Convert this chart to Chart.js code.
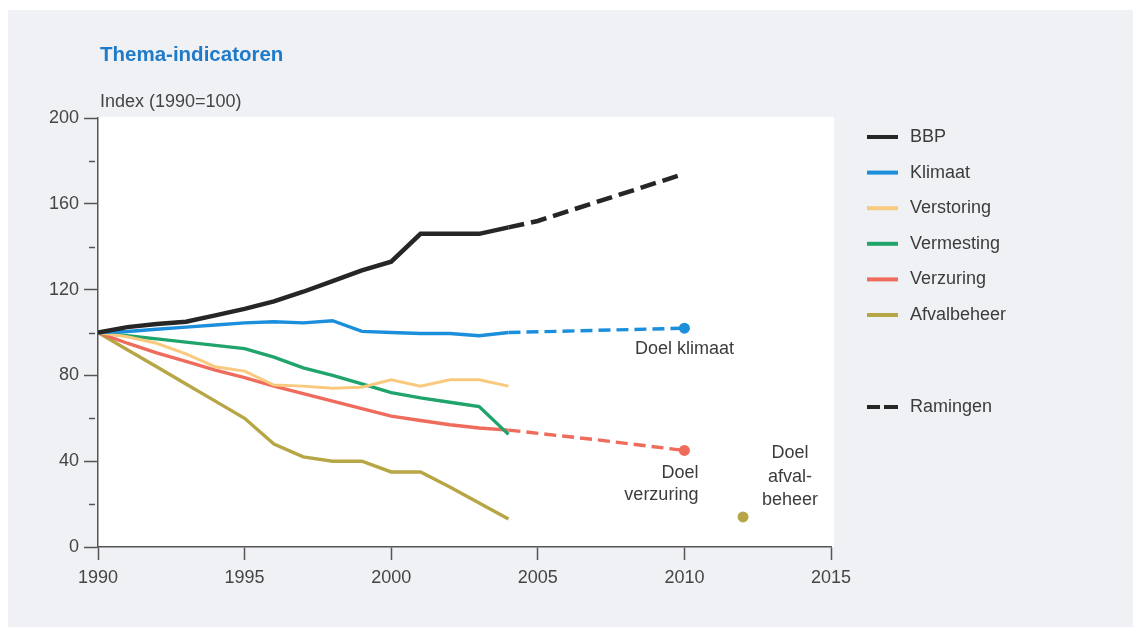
<!DOCTYPE html>
<html>
<head>
<meta charset="utf-8">
<script src="https://cdn.jsdelivr.net/npm/chart.js@4/dist/chart.umd.min.js"></script>
<style>
  body { margin: 0; background: #fff; }
  #panel { position: absolute; left: 8px; top: 10px; width: 1125px; height: 617px; background: #eff1f5; }
  #chart { position: absolute; left: 0; top: 0; }
</style>
</head>
<body>
<div id="panel"></div>
<canvas id="chart" width="1139" height="635"></canvas>
<script>
// jaren met gemeten waarden
const years = [1990, 1991, 1992, 1993, 1994, 1995, 1996, 1997, 1998, 1999, 2000, 2001, 2002, 2003, 2004];

const bbp         = [100, 102.5, 104, 105, 108, 111, 114.5, 119, 124, 129, 133, 146, 146, 146, 149];
const klimaat     = [100, 100.5, 101.5, 102.5, 103.5, 104.5, 105, 104.5, 105.5, 100.5, 100, 99.5, 99.5, 98.5, 100];
const verstoring  = [100, 98, 95, 90, 84, 82, 75.5, 75, 74, 74.5, 78, 75, 78, 78, 75];
const vermesting  = [100, 98.5, 97, 95.5, 94, 92.5, 88.5, 83.5, 80, 76, 72, 69.5, 67.5, 65.5, 52.5];
const verzuring   = [100, 95, 90.5, 86.5, 82.5, 79, 75, 71.5, 68, 64.5, 61, 59, 57, 55.5, 54.5];
const afvalbeheer = [100, 92, 84, 76, 68, 60, 48, 42, 40, 40, 35, 35, 28, 20.5, 13];

// ramingen tot 2010 en doelen
const bbpRamingYears = [2004, 2005, 2010];
const bbpRaming = [149, 152, 174];
const klimaatRamingYears = [2004, 2010];
const klimaatRaming = [100, 102];
const verzuringRamingYears = [2004, 2007, 2010];
const verzuringRaming = [54.5, 50, 45];
const afvalDoelYears = [2012];
const afvalDoel = [14];

const yTicks = [0, 40, 80, 120, 160, 200];
const xTicks = [1990, 1995, 2000, 2005, 2010, 2015];

const colors = {
    bbp: '#262626',
    klimaat: '#1b8fdc',
    verstoring: '#f9c97d',
    vermesting: '#1fa46b',
    verzuring: '#ef6b5b',
    afval: '#b6a646'
};

const legendItems = [
    { label: 'BBP', color: colors.bbp },
    { label: 'Klimaat', color: colors.klimaat },
    { label: 'Verstoring', color: colors.verstoring },
    { label: 'Vermesting', color: colors.vermesting },
    { label: 'Verzuring', color: colors.verzuring },
    { label: 'Afvalbeheer', color: colors.afval }
];

const toPoints = (xs, ys) => xs.map((x, i) => ({ x: x, y: ys[i] }));
const lastDot = (n, r) => ctx => ctx.dataIndex === n - 1 ? r : 0;

function solid(label, values, color, width) {
    return {
        label: label,
        data: toPoints(years, values),
        borderColor: color,
        borderWidth: width,
        pointRadius: 0,
        tension: 0
    };
}

function raming(xs, values, color, width, dash, dot) {
    return {
        label: 'Ramingen',
        data: toPoints(xs, values),
        borderColor: color,
        backgroundColor: color,
        borderWidth: width,
        borderDash: dash,
        pointRadius: dot ? lastDot(xs.length, 5.5) : 0,
        pointBorderWidth: 0,
        tension: 0
    };
}

Chart.defaults.font.family = "'Liberation Sans', Arial, sans-serif";
Chart.defaults.color = '#454545';

// achtergrond, titels, kleine streepjes, tekst bij doelen en legenda
const decor = {
    id: 'decor',
    beforeDraw(chart) {
        const { ctx, chartArea } = chart;
        ctx.save();
        ctx.fillStyle = '#ffffff';
        ctx.fillRect(chartArea.left, chartArea.top - 1, 834 - chartArea.left, chartArea.bottom - chartArea.top + 1);
        ctx.restore();
    },
    afterDraw(chart) {
        const { ctx } = chart;
        const xs = chart.scales.x, ys = chart.scales.y;
        ctx.save();

        ctx.fillStyle = '#1f7bc8';
        ctx.font = "bold 20.5px 'Liberation Sans', Arial, sans-serif";
        ctx.textBaseline = 'middle';
        ctx.fillText('Thema-indicatoren', 100, 55);

        ctx.fillStyle = '#454545';
        ctx.font = "18px 'Liberation Sans', Arial, sans-serif";
        ctx.fillText('Index (1990=100)', 100, 102);

        // korte streepjes tussen de gelabelde waarden
        ctx.strokeStyle = '#555';
        ctx.lineWidth = 1.5;
        for (let v = 20; v < 200; v += 40) {
            const py = Math.round(ys.getPixelForValue(v)) + 0.5;
            ctx.beginPath();
            ctx.moveTo(89, py);
            ctx.lineTo(95, py);
            ctx.stroke();
        }

        ctx.fillStyle = '#3c3c3c';
        ctx.textAlign = 'center';
        ctx.fillText('Doel klimaat', xs.getPixelForValue(2010), ys.getPixelForValue(92.5));
        ctx.textAlign = 'right';
        ctx.fillText('Doel', xs.getPixelForValue(2010) + 14, ys.getPixelForValue(34.5));
        ctx.fillText('verzuring', xs.getPixelForValue(2010) + 14, ys.getPixelForValue(24.2));
        ctx.textAlign = 'center';
        const ax = xs.getPixelForValue(2013.6);
        ctx.fillText('Doel', ax, ys.getPixelForValue(43.8));
        ctx.fillText('afval-', ax, ys.getPixelForValue(32.6));
        ctx.fillText('beheer', ax, ys.getPixelForValue(21.9));

        // legenda
        ctx.textAlign = 'left';
        legendItems.forEach((item, i) => {
            const py = 137 + i * 35.6;
            ctx.fillStyle = item.color;
            ctx.fillRect(867, py - 2, 31, 4);
            ctx.fillStyle = '#3c3c3c';
            ctx.fillText(item.label, 910, py);
        });
        ctx.fillStyle = colors.bbp;
        ctx.fillRect(867, 405, 13, 4);
        ctx.fillRect(884, 405, 14, 4);
        ctx.fillStyle = '#3c3c3c';
        ctx.fillText('Ramingen', 910, 407);

        ctx.restore();
    }
};

new Chart(document.querySelector('#chart'), {
    type: 'line',
    data: {
        datasets: [
            solid('BBP', bbp, colors.bbp, 4.5),
            raming(bbpRamingYears, bbpRaming, colors.bbp, 4.5, [16, 7], false),
            solid('Klimaat', klimaat, colors.klimaat, 3.4),
            raming(klimaatRamingYears, klimaatRaming, colors.klimaat, 3.4, [12, 6], true),
            solid('Verstoring', verstoring, colors.verstoring, 3),
            solid('Vermesting', vermesting, colors.vermesting, 3.4),
            solid('Verzuring', verzuring, colors.verzuring, 3.4),
            raming(verzuringRamingYears, verzuringRaming, colors.verzuring, 3.4, [12, 6], true),
            solid('Afvalbeheer', afvalbeheer, colors.afval, 3.4),
            {
                label: 'Doel afvalbeheer',
                data: toPoints(afvalDoelYears, afvalDoel),
                showLine: false,
                pointRadius: 5.5,
                pointBorderWidth: 0,
                backgroundColor: colors.afval
            }
        ]
    },
    options: {
        responsive: false,
        animation: false,
        devicePixelRatio: 1,
        layout: { padding: { top: 118, right: 308, left: 0, bottom: 0 } },
        plugins: {
            legend: { display: false },
            tooltip: { enabled: false }
        },
        scales: {
            x: {
                type: 'linear',
                min: 1990,
                max: 2015,
                afterBuildTicks: scale => { scale.ticks = xTicks.map(v => ({ value: v })); },
                afterFit: scale => { scale.height = 88; },
                ticks: {
                    callback: v => String(v),
                    font: { size: 18 },
                    padding: 7,
                    maxRotation: 0
                },
                grid: { drawOnChartArea: false, tickLength: 13, tickColor: '#555', tickWidth: 1.5 },
                border: { color: '#555', width: 1.5 }
            },
            y: {
                min: 0,
                max: 200,
                afterBuildTicks: scale => { scale.ticks = yTicks.map(v => ({ value: v })); },
                afterFit: scale => { scale.width = 98; },
                ticks: {
                    font: { size: 18 },
                    padding: 5
                },
                grid: { drawOnChartArea: false, tickLength: 14, tickColor: '#555', tickWidth: 1.5 },
                border: { color: '#555', width: 1.5 }
            }
        }
    },
    plugins: [decor]
});
</script>
</body>
</html>
